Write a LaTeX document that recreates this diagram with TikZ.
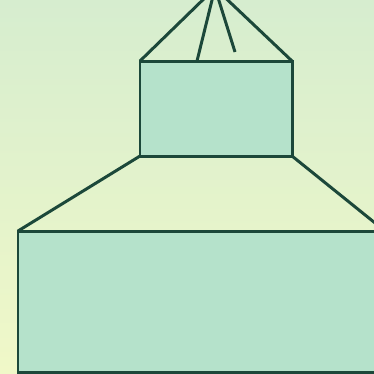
\documentclass[tikz,border=0pt]{standalone}
\usepackage{xcolor}
\usepackage{tikz}
\usetikzlibrary{calc}
\definecolor{skytop}{RGB}{214, 237, 207}
\definecolor{skybottom}{RGB}{240, 248, 200}
\definecolor{blockfill}{RGB}{181, 226, 203}
\definecolor{inkline}{RGB}{28, 72, 58}

\tikzset{
    outline/.style={draw=inkline, line width=1.7pt, line join=miter},
    block/.style={outline, fill=blockfill}
}

\begin{document}
\begin{tikzpicture}[x=0.02cm, y=-0.02cm]
    % page and background
    \clip (0,0) rectangle (374,373);
    \shade[top color=skytop, bottom color=skybottom] (0,0) rectangle (374,373);

    % points
    \coordinate (apex) at (215,-12);
    \coordinate (roofL) at (140,61);
    \coordinate (roofR) at (292,61);
    \coordinate (neckL) at (140,156);
    \coordinate (neckR) at (292,156);
    \coordinate (baseL) at (18,231);
    \coordinate (baseR) at (385,231);
    \coordinate (ribL) at (197,61);
    \coordinate (ribR) at (235,52);

    % top cone
    \draw[outline] (roofL) -- (apex) -- (roofR);
    \draw[outline] (ribL) -- (apex) -- (ribR);

    % small block
    \draw[block] (roofL) rectangle (neckR);

    % flare
    \draw[outline] (baseL) -- (neckL);
    \draw[outline] (neckR) -- (baseR);

    % big block
    \draw[block] (baseL) rectangle (400,372);
\end{tikzpicture}
\end{document}
